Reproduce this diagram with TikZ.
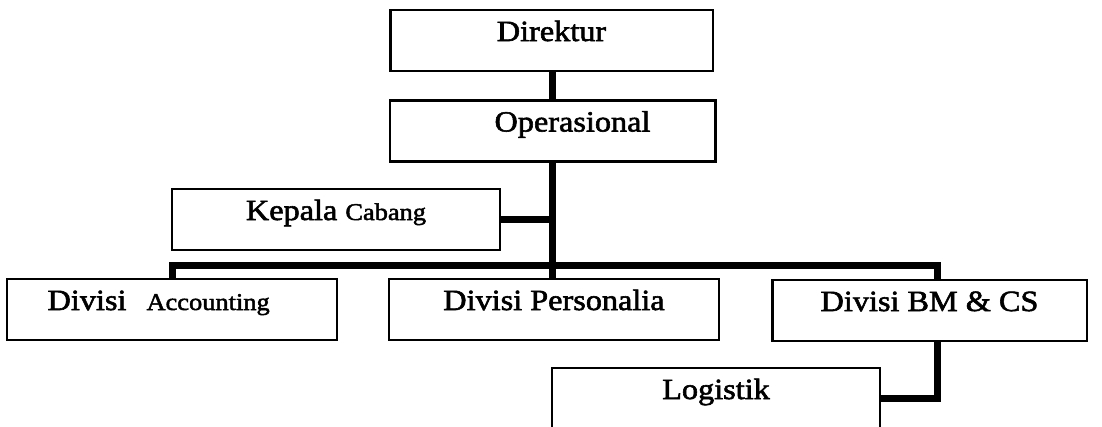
\documentclass[tikz,border=0pt]{standalone}
\usepackage{fontspec}
\setmainfont{Liberation Serif}[FakeStretch=1.1,FakeBold=2]
\tikzset{
  unit/.style={draw, line width=2pt, inner xsep=0pt, inner ysep=0pt,
    text height=23.25pt, text depth=22.5pt,
    font=\fontsize{22pt}{26pt}\selectfont},
  link/.style={line width=5.25pt}
}
\newcommand{\smalltxt}[1]{{\fontsize{18pt}{21pt}\selectfont #1}}

\begin{document}
\begin{tikzpicture}[x=0.75pt, y=-0.75pt]
    \useasboundingbox (0,0) rectangle (1102,426);

    % boxes
    \node[unit, minimum width=242pt] (direktur) at (551.5, 40.5) {Direktur};
    \node[unit, minimum width=244pt] (operasional) at (552.5, 131) {\hspace{30pt}Operasional};
    \node[unit, minimum width=246pt] (kepala) at (336, 219.5) {Kepala \smalltxt{Cabang}};
    \node[unit, minimum width=247.5pt] (accounting) at (172, 309.5) {Divisi\hspace{9pt} \smalltxt{Accounting}\hspace{20pt}\mbox{}};
    \node[unit, minimum width=247.5pt] (personalia) at (554, 309.5) {Divisi Personalia};
    \node[unit, minimum width=236pt] (bmcs) at (929.5, 310.5) {Divisi BM \& CS};
    \node[unit, minimum width=246pt] (logistik) at (716, 398.5) {Logistik};

    \coordinate (barL) at (172, 265);
    \coordinate (barR) at (937, 265);

    % lines
    \draw[link] (operasional.north |- direktur.south) -- (operasional.north);
    \draw[link] (operasional.south) -- (operasional.south |- personalia.north);
    \draw[link] (kepala.east) -- (kepala.east -| operasional.south);
    \draw[link] (barL |- accounting.north) -- (barL) -- (barR) -- (barR |- bmcs.north);
    \draw[link] (barR |- bmcs.south) |- (logistik.east);
\end{tikzpicture}
\end{document}
